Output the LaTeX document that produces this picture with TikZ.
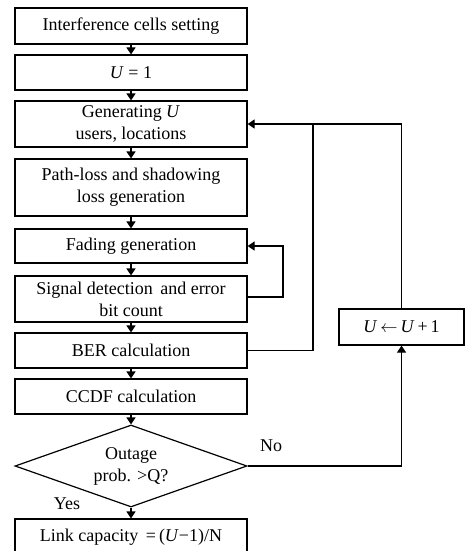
\documentclass[tikz,border=0pt]{standalone}
\usepackage{fontspec}
\setmainfont{Liberation Serif}
\usetikzlibrary{arrows.meta,shapes.geometric}
\begin{document}
\begin{tikzpicture}[x=1pt,y=-1pt,line width=1.2pt,
  stepbox/.style={draw,rectangle,minimum width=232pt,inner sep=1pt,align=center,font=\fontsize{18}{22}\selectfont},
  test/.style={draw,diamond,aspect=2.83,minimum width=232pt,minimum height=82pt,inner sep=0pt,align=center,font=\fontsize{18}{22}\selectfont},
  arr/.style={-{Triangle[width=9pt,length=7pt]}}]
\useasboundingbox (0,0) rectangle (465,551);
\clip (0,0) rectangle (465,551);
  \node[stepbox,minimum height=36pt] (init) at (131,26) {Interference cells setting};
  \node[stepbox,minimum height=35pt] (u1) at (131,72.5) {\textit{U} = 1};
  \node[stepbox,minimum height=46pt] (gen) at (131,124) {Generating \textit{U}\\users, locations};
  \node[stepbox,minimum height=57pt] (path) at (131,187.5) {Path-loss and shadowing\\loss generation};
  \node[stepbox,minimum height=34pt] (fad) at (131,246) {Fading generation};
  \node[stepbox,minimum height=46pt] (sig) at (131,299) {Signal detection\, and error\\bit count};
  \node[stepbox,minimum height=35pt] (ber) at (131,350.5) {BER calculation};
  \node[stepbox,minimum height=35pt] (ccdf) at (131,396.5) {CCDF calculation};
  \node[test] (out) at (131,466) {Outage\\prob. \textgreater Q?};
  \node[stepbox,minimum height=37pt] (link) at (131,537.5) {Link capacity \,=\,(\textit{U}−1)/N};
  \node[stepbox,minimum width=125pt,minimum height=36pt] (upd) at (401.5,327) {\textit{U}\,$\leftarrow$\,\textit{U}\,+\,1};
  \foreach \a/\b in {init/u1,u1/gen,gen/path,path/fad,fad/sig,sig/ber,ber/ccdf,ccdf/out,out/link}
    \draw[arr] (\a) -- (\b);
  % loop corners
  \coordinate (fl) at (283,246);
  \coordinate (bl) at (313,124);
  \draw[arr] (sig.east |- 0,297) -| (fl) -- (fad.east);
  \draw[arr] (ber.east) -| (bl) -- (gen.east);
  \draw (upd.north) |- (bl);
  \draw[arr] (out.east) -| (upd.south);
  \node at (271,446) {\fontsize{18}{22}\selectfont No};
  \node at (67,504) {\fontsize{18}{22}\selectfont Yes};
\end{tikzpicture}
\end{document}
